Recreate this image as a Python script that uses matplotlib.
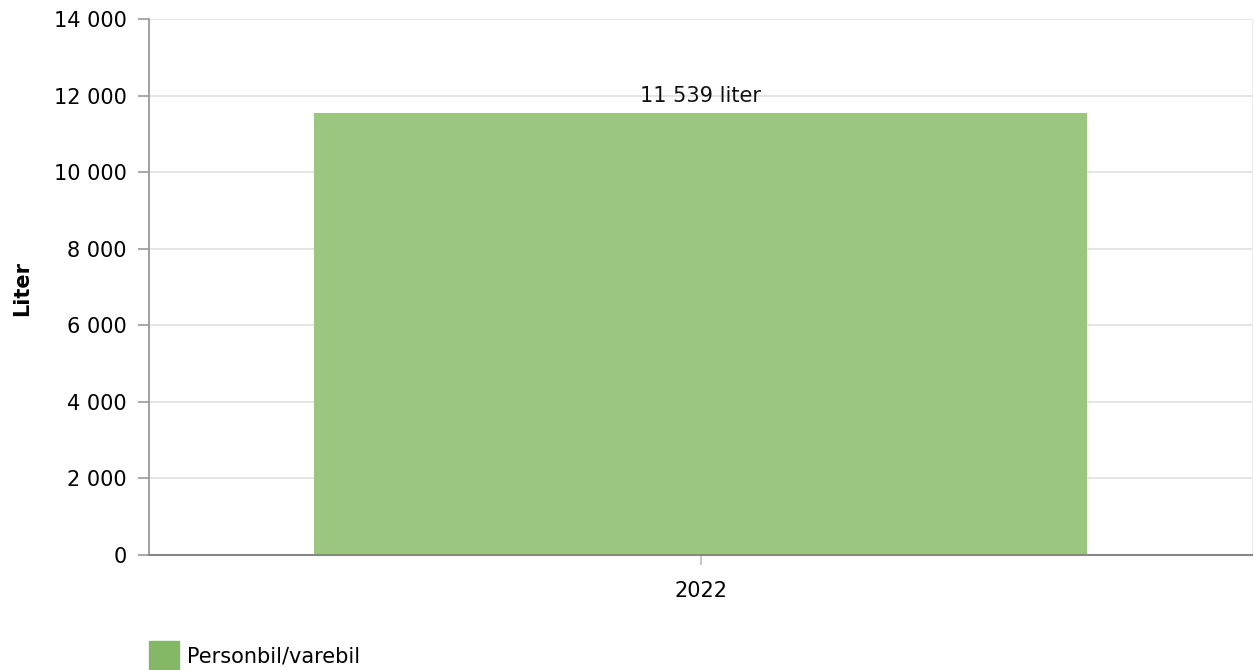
import matplotlib.pyplot as plt
from matplotlib.patches import Rectangle
from matplotlib.ticker import FuncFormatter

categories = ['2022']
values = [11539]
series_name = 'Personbil/varebil'
y_ticks = [0, 2000, 4000, 6000, 8000, 10000, 12000, 14000]

BAR_COLOR = '#9bc680'
LEGEND_COLOR = '#85b866'
FS = 15


def fmt(v, pos=None):
    return f'{int(v):,}'.replace(',', ' ')


fig = plt.figure(figsize=(12.54, 6.70), dpi=100)
ax = fig.add_axes([149 / 1254, 1 - 555 / 670, 1103 / 1254, 536 / 670])

x = list(range(len(categories)))
ax.bar(x, values, width=0.7, color=BAR_COLOR, zorder=2)
for xi, v in zip(x, values):
    ax.annotate(f'{fmt(v)} liter', (xi, v), xytext=(0, 5), textcoords='offset points',
                ha='center', va='bottom', fontsize=FS, color='#111111')

ax.set_xlim(-0.5, 0.5)
ax.set_ylim(0, 14000)
ax.set_yticks(y_ticks)
ax.yaxis.set_major_formatter(FuncFormatter(fmt))
ax.set_xticks(x)
ax.set_xticklabels(categories)
ax.tick_params(axis='y', length=8, width=1.2, color='#999999', labelsize=FS, pad=8)
ax.tick_params(axis='x', length=7, width=1.2, color='#bbbbbb', labelsize=FS, pad=12)
ax.grid(True, axis='y', color='#e3e3e3', linewidth=1.3, zorder=0)
ax.set_axisbelow(True)

ax.spines['top'].set_visible(False)
ax.spines['right'].set_color('#eeeeee')
ax.spines['left'].set_color('#999999')
ax.spines['left'].set_linewidth(1.3)
ax.spines['bottom'].set_color('#888888')
ax.spines['bottom'].set_linewidth(1.5)
ax.spines['bottom'].set_zorder(3)

fig.text(22 / 1254, 1 - 288 / 670, 'Liter', rotation=90, ha='center', va='center',
         fontsize=FS, fontweight='bold')

# legend
fig.patches.append(Rectangle((149 / 1254, 0), 30 / 1254, 29 / 670, transform=fig.transFigure,
                             color=LEGEND_COLOR, figure=fig))
fig.text(187 / 1254, 1 - 657 / 670, series_name, ha='left', va='center', fontsize=FS)

fig.savefig('out.png', dpi=100)
